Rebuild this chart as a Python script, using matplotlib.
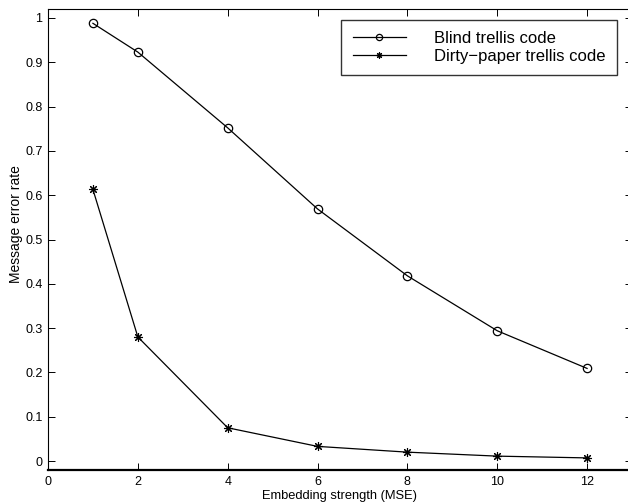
import matplotlib
matplotlib.use("Agg")
import matplotlib.pyplot as plt

strength = [1, 2, 4, 6, 8, 10, 12]
blind = [0.988, 0.923, 0.752, 0.569, 0.418, 0.294, 0.209]
dirty = [0.613, 0.280, 0.075, 0.033, 0.020, 0.011, 0.007]
xticks = [0, 2, 4, 6, 8, 10, 12]
yticks = [0, 0.1, 0.2, 0.3, 0.4, 0.5, 0.6, 0.7, 0.8, 0.9, 1.0]
ytick_labels = ["0", "0.1", "0.2", "0.3", "0.4", "0.5", "0.6", "0.7", "0.8", "0.9", "1"]

plt.rcParams['font.family'] = ['Liberation Sans', 'DejaVu Sans']

W, H = 628, 504
fig = plt.figure(figsize=(W / 100, H / 100), dpi=100)
left, right, bottom, top = 48, 632, 470, 9
ax = fig.add_axes([left / W, (H - bottom) / H, (right - left) / W, (bottom - top) / H])

asterisk = (8, 2, 0)
ax.plot(strength, blind, color='black', lw=0.9, marker='o', markersize=6,
        markerfacecolor='none', markeredgewidth=0.9, label='Blind trellis code')
ax.plot(strength, dirty, color='black', lw=0.9, marker=asterisk, markersize=6.5,
        markeredgewidth=0.8, label='Dirty\u2212paper trellis code')

ax.set_xlim(0, 13)
ax.set_ylim(-0.0203, 1.0203)
ax.set_xticks(xticks)
ax.set_yticks(yticks)
ax.set_yticklabels(ytick_labels)
ax.tick_params(direction='in', top=True, right=True, length=5, width=0.7,
               labelsize=9, pad=4)
for s in ['top', 'right', 'left']:
    ax.spines[s].set_linewidth(0.8)
ax.spines['bottom'].set_linewidth(1.6)

ax.set_xlabel('Embedding strength (MSE)', fontsize=9.3, labelpad=2)
ax.set_ylabel('Message error rate', fontsize=10)
ax.yaxis.set_label_coords(-0.043, 0.534)

leg = ax.legend(loc='upper right',
                bbox_to_anchor=((617 - left) / (right - left), 1 - (20 - top) / (bottom - top)),
                fontsize=12, frameon=True, fancybox=False, edgecolor='black',
                handlelength=3.2, handletextpad=1.7, borderpad=0.68, labelspacing=0.14,
                borderaxespad=0)
leg.get_frame().set_linewidth(1.0)
for h in leg.legend_handles:
    h.set_markersize(4.5)

fig.savefig('out.png', dpi=100)
